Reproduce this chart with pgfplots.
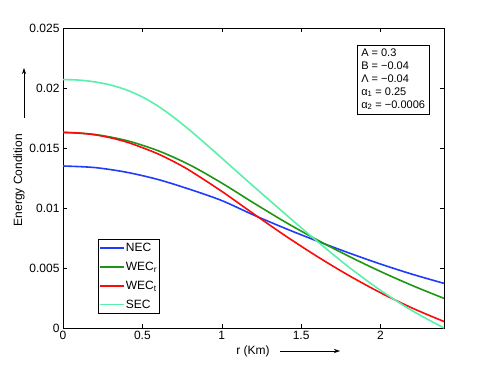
\documentclass[border=0pt]{standalone}
\usepackage{fontspec}
\setmainfont{Liberation Sans}
\usepackage{pgfplots}
\pgfplotsset{compat=1.18}
\usetikzlibrary{arrows.meta}
\definecolor{necblue}{RGB}{30,60,250}
\definecolor{wecgreen}{RGB}{30,150,20}
\definecolor{wecred}{RGB}{250,10,10}
\definecolor{secaqua}{RGB}{90,240,170}
\begin{document}
\begin{tikzpicture}
\path[use as bounding box] (-63bp,-41bp) rectangle (428bp,328bp);
\begin{axis}[
  scale only axis, width=381bp, height=300bp,
  xmin=0, xmax=2.4, ymin=0, ymax=0.025,
  scaled y ticks=false, scaled x ticks=false,
  xtick={0,0.5,1,1.5,2}, xticklabels={0,0.5,1,1.5,2},
  ytick={0,0.005,0.01,0.015,0.02,0.025},
  yticklabels={0,0.005,0.01,0.015,0.02,0.025},
  tick align=inside, tick pos=both, major tick length=4bp,
  tick label style={font=\fontsize{12bp}{14bp}\selectfont},
  axis line style={black, line width=0.5bp},
  every tick/.style={black, line width=0.5bp},
  legend style={at={(rel axis cs:0.092,0.297)}, anchor=north west,
    draw=black, fill=white, font=\fontsize{12bp}{14bp}\selectfont,
    inner xsep=1bp, inner ysep=3bp, row sep=7bp, nodes={inner sep=1bp}},
  legend cell align=left,
  legend image code/.code={\draw[#1, line width=1.6bp] (0bp,0bp) -- (24bp,0bp);},
]
\addplot[necblue, line width=1.6bp, smooth] coordinates {
(0,0.01350)(0.2,0.01337)(0.4,0.01298)(0.6,0.01237)(0.8,0.01155)(1.0,0.01062)(1.2,0.00942)(1.4,0.00830)(1.6,0.00725)(1.8,0.00626)(2.0,0.00533)(2.2,0.00448)(2.4,0.00372)};
\addlegendentry{NEC}
\addplot[wecgreen, line width=1.6bp, smooth] coordinates {
(0,0.0163)(0.2,0.01613)(0.4,0.01562)(0.6,0.01477)(0.8,0.01358)(1.0,0.01208)(1.2,0.01043)(1.4,0.00883)(1.6,0.00735)(1.8,0.00598)(2.0,0.00471)(2.2,0.00354)(2.4,0.00247)};
\addlegendentry{WEC\textsubscript{r}}
\addplot[wecred, line width=1.6bp, smooth] coordinates {
(0,0.0163)(0.1,0.01625)(0.2,0.0161)(0.3,0.01585)(0.4,0.0155)(0.5,0.01503)(0.6,0.0145)(0.7,0.01385)(0.8,0.01311)(1.0,0.01139)(1.2,0.00952)(1.4,0.00769)(1.6,0.00597)(1.8,0.00438)(2.0,0.00294)(2.2,0.00166)(2.4,0.00054)};
\addlegendentry{WEC\textsubscript{t}}
\addplot[secaqua, line width=1.6bp, smooth] coordinates {
(0,0.0207)(0.1,0.02066)(0.2,0.02051)(0.3,0.02025)(0.4,0.01984)(0.5,0.01925)(0.6,0.01848)(0.7,0.01753)(0.8,0.01647)(0.9,0.01533)(1.0,0.01416)(1.1,0.01298)(1.2,0.01181)(1.4,0.00950)(1.6,0.00724)(1.8,0.00508)(2.0,0.00314)(2.2,0.00144)(2.4,0.0)};
\addlegendentry{SEC}
\end{axis}
\node[draw=black, line width=0.5bp, fill=white, anchor=north west, align=left,
  inner xsep=4bp, inner ysep=4bp, font=\fontsize{11bp}{12.8bp}\selectfont]
  at (294bp,283bp) {A = 0.3\\ B = −0.04\\ Λ = −0.04\\ α\textsubscript{1} = 0.25\\ α\textsubscript{2} = −0.0006};
\node[rotate=90, font=\fontsize{12bp}{14bp}\selectfont] at (-44bp,148bp) {Energy Condition};
\draw[-{Stealth[length=6bp,width=4bp]}, line width=0.5bp] (-39bp,210bp) -- (-39bp,260bp);
\node[font=\fontsize{12bp}{14bp}\selectfont] at (190bp,-23bp) {r (Km)};
\draw[-{Stealth[length=6bp,width=4bp]}, line width=0.5bp] (217bp,-23bp) -- (277bp,-23bp);
\end{tikzpicture}
\end{document}
